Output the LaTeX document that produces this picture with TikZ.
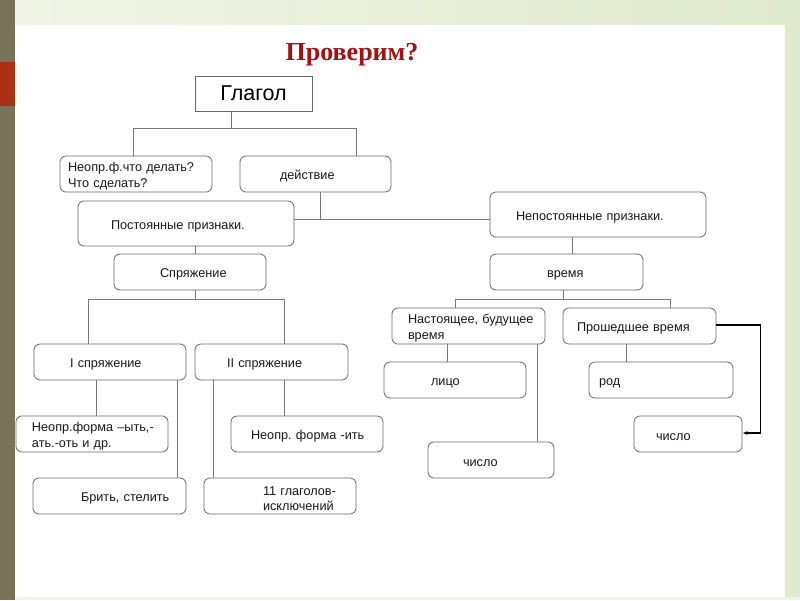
\documentclass[tikz,border=0pt]{standalone}
\usepackage{fontspec}
\setmainfont{Liberation Serif}
\newfontfamily\boxfont{Liberation Sans}
\usetikzlibrary{arrows.meta,calc,positioning}
\frenchspacing
\definecolor{darkred}{RGB}{165,18,18}
\definecolor{linegray}{RGB}{105,105,105}
\definecolor{conngray}{RGB}{120,120,120}
\definecolor{textgray}{RGB}{25,25,25}
\definecolor{stripeolive}{RGB}{122,114,86}
\definecolor{stripered}{RGB}{172,48,22}
\definecolor{paleleft}{RGB}{240,244,230}
\definecolor{paleright}{RGB}{224,234,206}
\newcommand{\indt}[1]{\hspace*{#1pt}}
\tikzset{
  box/.style={draw=linegray, line width=0.8pt, rounded corners=6pt, minimum height=36pt,
    inner xsep=0pt, inner ysep=2pt, align=left, text=textgray,
    font=\boxfont\fontsize{12.7}{15.5}\selectfont,
    execute at begin node={\rule{0pt}{14pt}}},
  conn/.style={draw=conngray, line width=0.8pt},
  arr/.style={draw=black, line width=1.1pt, -{Latex[length=5pt,width=4pt]}},
}
\begin{document}
\begin{tikzpicture}[x=1pt,y=-1pt]
      \useasboundingbox (0,0) rectangle (800,600);
      % Slide background
      \fill[white] (0,0) rectangle (800,600);
      \shade[left color=paleleft, right color=paleright] (15,0) rectangle (800,24);
      \fill[paleright] (785,24) rectangle (800,600);
      \fill[paleleft] (15,597) rectangle (800,600);
      \fill[stripeolive] (0,0) rectangle (15,600);
      \fill[stripered] (0,62) rectangle (15,106);
      % Title
      \node[text=darkred, font=\bfseries\fontsize{26}{30}\selectfont] (title) at (352,55) {Проверим?};
      % Top level
      \node[draw=linegray, line width=0.8pt, minimum width=117pt, minimum height=35pt, text=black,
        font=\boxfont\fontsize{21.5}{24}\selectfont] (glagol) at (253.5,93.5) {Глагол};
      \node[box, text width=152pt] (neopr) at (136,174) {\indt{8}Неопр.ф.что делать?\\\indt{8}Что сделать?};
      \node[box, text width=151pt] (deistvie) at (315.5,174) {\indt{40}действие};
      \node[box, text width=216pt, minimum height=45pt] (post) at (186,223.5) {\indt{33}Постоянные признаки.};
      \node[box, text width=216pt, minimum height=45pt] (nepost) at (598,214.5) {\indt{26}Непостоянные признаки.};
      % Constant features
      \node[box, text width=152pt] (spr) at (190,272) {\indt{46}Спряжение};
      \node[box, text width=152pt] (spr1) at (110,362) {\indt{36}I спряжение};
      \node[box, text width=153pt] (spr2) at (271.5,362) {\indt{32}II спряжение};
      \node[box, text width=152pt] (formy) at (92,434) {\indt{16}Неопр.форма –ыть,-\\\indt{16}ать.-оть и др.};
      \node[box, text width=152pt] (itj) at (307,434) {\indt{20}Неопр. форма -ить};
      \node[box, text width=153pt] (brit) at (109.5,496) {\indt{48}Брить, стелить};
      \node[box, text width=152pt] (iskl) at (280,496) {\indt{59}11 глаголов-\\\indt{59}исключений};
      % Variable features
      \node[box, text width=153pt] (vremya) at (566.5,272) {\indt{57}время};
      \node[box, text width=153pt] (nast) at (468.5,326) {\indt{16}Настоящее, будущее\\\indt{16}время};
      \node[box, text width=153pt] (prosh) at (639.5,326) {\indt{14}Прошедшее время};
      \node[box, text width=142pt] (litso) at (455,380) {\indt{47}лицо};
      \node[box, text width=144pt] (rod) at (661,380) {\indt{10}род};
      \node[box, text width=126pt] (chislo) at (491,460) {\indt{35}число};
      \node[box, text width=108pt] (chislop) at (688,434) {\indt{22}число};
      % Connectors
      \draw[conn] ([xshift=-22.5pt]glagol.south) -- ++(0,17) coordinate (t1);
      \draw[conn] ([xshift=-3pt]neopr.north) |- (t1) -| ([xshift=40.5pt]deistvie.north);
      \draw[conn] ([xshift=4.5pt]deistvie.south) -- ++(0,27);
      \draw[conn] ([yshift=4.5pt]post.east) -- ([yshift=-4.5pt]nepost.west);
      \draw[conn] ([xshift=9pt]post.south) -- ([xshift=5pt]spr.north);
      \draw[conn] ([xshift=5pt]spr.south) -- ++(0,9) coordinate (t2);
      \draw[conn] ([xshift=-22pt]spr1.north) |- (t2) -| ([xshift=12.5pt]spr2.north);
      \draw[conn] ([xshift=-14pt]spr1.south) -- ([xshift=4pt]formy.north);
      \draw[conn] ([xshift=67pt]spr1.south) -- ([xshift=67.5pt]brit.north);
      \draw[conn] ([xshift=-58.5pt]spr2.south) -- ([xshift=-67pt]iskl.north);
      \draw[conn] ([xshift=12.5pt]spr2.south) -- ([xshift=-23pt]itj.north);
      \draw[conn] ([xshift=-26pt]nepost.south) -- ([xshift=5.5pt]vremya.north);
      \draw[conn] ([xshift=-3.5pt]vremya.south) -- ++(0,9) coordinate (t3);
      \draw[conn] ([xshift=-13.5pt]nast.north) |- (t3) -| ([xshift=30.5pt]prosh.north);
      \draw[conn] ([xshift=-21.5pt]nast.south) -- ([xshift=-8pt]litso.north);
      \draw[conn] ([xshift=68.5pt]nast.south) -- ([xshift=46pt]chislo.north);
      \draw[conn] ([xshift=-13.5pt]prosh.south) -- ([xshift=-35pt]rod.north);
      \draw[arr] ([yshift=1pt]prosh.east) -- ++(44,0) |- ([yshift=1pt]chislop.east);
    \end{tikzpicture}
\end{document}
